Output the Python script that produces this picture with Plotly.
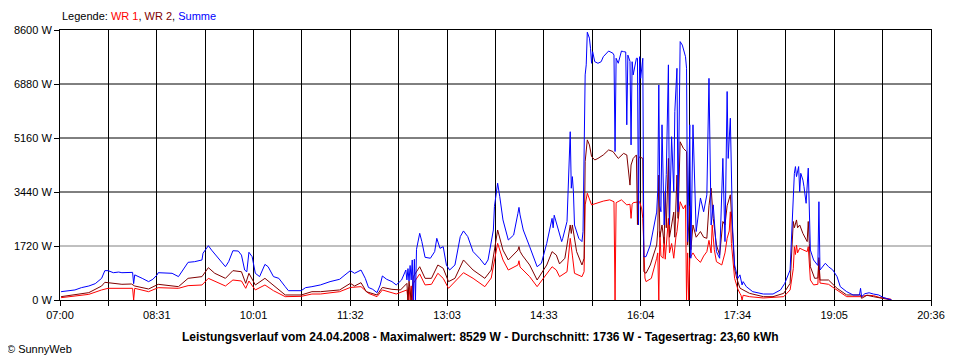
import plotly.graph_objects as go

# ---------------- data ----------------
wr1_t = ["07:01","07:14","07:27","07:39","07:45","08:08","08:09","08:10","08:23","08:32","08:51","09:00","09:13","09:19","09:35","09:42","09:50","09:54","09:57","10:03","10:12","10:20","10:31","10:46","10:56",
         "11:04","11:22","11:32","11:42","11:49","11:57","12:02","12:15","12:25","12:26","12:27","12:28","12:29","12:30","12:31","12:37","12:42","12:48","12:54","12:59","13:04","13:18","13:27","13:38","13:44","13:50","13:55",
         "14:00","14:09","14:10","14:11","14:20","14:27","14:36","14:41","14:45","14:48","14:55","14:56","14:58","15:00","15:02","15:09","15:11","15:12","15:14","15:18","15:29","15:35","15:39","15:40","15:41","15:46","15:51",
         "15:54","15:55","15:56","15:57","16:03","16:05","16:06","16:08","16:09","16:14","16:19","16:20","16:21","16:22","16:23","16:25","16:26","16:27","16:30","16:31","16:33","16:35","16:37","16:38","16:40","16:41","16:44",
         "16:46","16:47","16:48","16:49","16:50","16:53","16:56","17:00","17:03","17:06","17:08","17:10","17:11","17:13","17:15","17:20","17:23","17:25","17:27","17:28","17:29","17:32","17:35","17:37","17:38","17:39","17:40",
         "17:46","17:59","18:18","18:24","18:27","18:28","18:29","18:30","18:31","18:33","18:36","18:40","18:41","18:42","18:43","18:46","18:50","18:51","18:52","19:00","19:08","19:17","19:30","19:36","19:42","19:48","19:58","19:59"]
wr1_w = [74,117,180,320,372,372,0,372,265,393,372,457,478,690,446,637,605,372,605,320,478,297,106,117,190,
         191,265,400,425,212,106,320,191,320,0,400,0,450,0,530,830,480,500,850,690,372,870,690,425,700,1805,1275,
         955,1115,1250,1050,743,425,850,1060,955,743,900,1330,1965,1430,850,743,900,3030,3400,3030,3150,3190,3130,0,3100,3190,3030,
         3050,2600,3050,3100,3130,2900,2600,700,585,690,1330,1500,0,2180,1400,1330,2000,1300,2600,1500,1800,1330,2000,2180,2800,3130,2900,
         3030,0,1500,0,1330,1500,1330,1200,1400,1540,1900,1500,2390,1600,1220,1115,1500,1965,2200,2810,1800,690,350,212,150,0,150,
         106,64,106,320,1000,1700,1450,1750,1500,1650,1600,1540,1700,1200,637,480,500,1270,540,500,320,106,106,150,140,80,30,0]

wr2_t = ["07:01","07:14","07:27","07:39","07:42","07:58","08:07","08:10","08:23","08:32","08:51","09:00","09:13","09:19","09:25","09:35","09:42","09:50","09:54","09:57","10:03","10:12","10:20","10:31","10:46","10:56",
         "11:04","11:22","11:32","11:36","11:42","11:47","11:57","12:02","12:11","12:19","12:25","12:26","12:27","12:29","12:31","12:37","12:42","12:48","12:54","12:59","13:04","13:10","13:18","13:27","13:38","13:44","13:50",
         "13:55","14:00","14:09","14:10","14:11","14:13","14:20","14:27","14:36","14:41","14:45","14:48","14:53","14:56","14:58","14:59","15:00","15:04","15:09","15:11","15:12","15:14","15:16","15:18","15:21","15:24","15:29",
         "15:34","15:38","15:43","15:48","15:51","15:54","15:55","15:57","16:00","16:01","16:02","16:03","16:06","16:07","16:09","16:13","16:19","16:20","16:21","16:22","16:24","16:26","16:27","16:28","16:30","16:31","16:33",
         "16:35","16:36","16:38","16:39","16:41","16:44","16:47","16:48","16:50","16:51","16:53","16:56","17:00","17:03","17:06","17:08","17:10","17:12","17:15","17:18","17:21","17:23","17:25","17:28","17:30","17:32","17:34",
         "17:37","17:39","17:43","17:46","17:59","18:08","18:18","18:24","18:27","18:28","18:30","18:31","18:33","18:36","18:40","18:41","18:42","18:43","18:47","18:50","18:51","18:52","19:00","19:08","19:17","19:30","19:31",
         "19:36","19:42","19:51","19:59"]
wr2_w = [106,160,234,446,563,500,510,446,350,500,425,690,745,1030,850,690,935,900,530,850,478,690,457,160,160,265,
         265,320,530,446,552,265,160,400,340,320,530,0,600,0,743,1060,690,690,1115,1010,585,690,1275,955,690,955,2230,
         1590,1275,1590,1700,1550,1430,1115,637,1115,1540,1430,1150,1330,1965,2390,2120,2390,1540,1115,1330,4410,5100,4940,4570,4460,4510,4620,
         4780,4730,4510,4670,4620,3660,4300,4510,4620,2400,4500,4560,4510,900,850,1115,1750,2200,3980,2000,2390,1800,3450,2300,4510,2000,2390,
         2800,2000,3980,2600,5040,4830,4730,1750,3000,1600,2390,2000,2180,2000,1965,3000,3560,2600,1750,1430,2500,2390,3000,3350,2180,1000,690,
         380,340,265,212,106,106,212,530,2500,2300,2550,2300,2390,2120,1860,2500,1800,1060,690,700,1350,637,637,372,160,160,53,
         150,106,53,0]

sum_t = ["07:01","07:08","07:14","07:20","07:27","07:33","07:39","07:42","07:45","07:50","07:55","07:58","08:08","08:09","08:10","08:17","08:23","08:27","08:31","08:32","08:45","08:51","08:56","09:00","09:06","09:13",
         "09:14","09:19","09:22","09:28","09:35","09:38","09:42","09:47","09:50","09:53","09:55","09:57","10:00","10:03","10:07","10:12","10:15","10:20","10:25","10:31","10:34","10:46","10:50","10:56",
         "11:04","11:13","11:22","11:27","11:32","11:36","11:42","11:46","11:49","11:53","11:57","12:00","12:02","12:06","12:11","12:15","12:20","12:24","12:25","12:26","12:27","12:28","12:29","12:30","12:31","12:32",
         "12:33","12:34","12:37","12:39","12:42","12:47","12:51","12:53","12:56","12:59","13:02","13:05","13:10","13:15","13:18","13:22","13:27","13:33","13:38","13:41","13:46","13:47","13:50","13:52","13:55",
         "14:00","14:05","14:09","14:10","14:11","14:14","14:20","14:27","14:31","14:36","14:41","14:42","14:43","14:45","14:50","14:51","14:55","14:58","14:59","15:00","15:01","15:02","15:06","15:09","15:10",
         "15:12","15:13","15:14","15:16","15:17","15:18","15:19","15:21","15:24","15:27","15:29","15:34","15:38","15:39","15:40","15:41","15:43","15:46","15:48","15:50","15:51","15:52","15:54","15:55","15:56","15:57",
         "16:00","16:01","16:02","16:03","16:04","16:06","16:07","16:09","16:13","16:17","16:19","16:20","16:21","16:22","16:23","16:24","16:26","16:28","16:30","16:31","16:33","16:35","16:36","16:38","16:39",
         "16:41","16:43","16:46","16:47","16:48","16:50","16:51","16:53","16:56","17:00","17:03","17:06","17:08","17:10","17:12","17:15","17:18","17:21","17:23","17:25","17:26","17:28","17:30","17:32","17:35",
         "17:37","17:39","17:40","17:43","17:49","17:59","18:08","18:15","18:19","18:24","18:26","18:28","18:29","18:30","18:32","18:33","18:34","18:36","18:37","18:39","18:41","18:42","18:43","18:46","18:49","18:50",
         "18:51","18:52","18:57","19:00","19:04","19:08","19:11","19:17","19:23","19:29","19:30","19:31","19:34","19:38","19:42","19:47","19:51","19:58","19:59"]
sum_w = [265,287,320,393,446,520,690,935,935,870,890,870,880,520,800,690,585,660,800,870,850,745,1010,1200,1220,1275,
         1490,1730,1590,1330,1060,1220,1570,1560,1430,955,900,1520,1380,850,745,1135,1060,745,690,425,297,297,393,425,
         480,585,660,800,935,850,955,690,400,340,234,480,765,660,585,480,637,955,640,1000,600,1100,640,1275,0,1300,
         0,1615,2124,1860,1360,1330,1540,1965,1645,1700,1115,955,1115,2020,2200,2020,1540,1330,1115,1275,2230,2975,3720,3290,2550,
         1910,2070,2760,2950,2710,2230,1700,1060,1170,1805,2600,2300,2700,2440,1860,1965,2500,5360,3560,3930,3450,2390,1965,1860,2180,
         7170,7490,8530,8340,8020,7540,7910,7590,7540,7590,7750,7930,7860,7800,4730,7700,7540,7930,7910,7900,5580,7800,7600,4940,7590,7170,
         7700,7700,2390,7750,7060,7700,1380,1380,1750,2390,2800,3500,6850,3000,2810,5580,2390,4000,7490,2390,5200,3450,6000,7380,2810,
         8230,8120,7750,7380,1860,5580,1330,5580,2180,3250,2810,3350,7060,2390,3030,1540,1330,4510,1860,6640,4510,5790,2390,1115,690,
         800,480,585,425,265,190,190,320,530,955,2655,4035,4250,3930,4250,3450,4035,3820,3610,3080,4200,3000,1590,1275,1115,1100,
         3130,955,1170,1060,955,743,425,265,160,160,372,106,200,230,190,160,85,32,0]

series_names = ["WR 1", "WR 2", "Summe"]
series_colors = ["#ff0000", "#800000", "#0000ff"]

y_ticks = [0, 1720, 3440, 5160, 6880, 8600]
x_tick_labels = ["07:00", "08:31", "10:01", "11:32", "13:03", "14:33", "16:04", "17:34", "19:05", "20:36"]

title_text = ("Leistungsverlauf vom 24.04.2008 - Maximalwert: 8529 W - Durchschnitt: 1736 W"
              " - Tagesertrag: 23,60 kWh")


def to_min(s):
    h, m = s.split(":")
    return int(h) * 60 + int(m)


x_start = to_min(x_tick_labels[0])
x_end = to_min(x_tick_labels[-1])
n_grid = 2 * (len(x_tick_labels) - 1)
grid_x = [x_start + i * (x_end - x_start) / n_grid for i in range(n_grid + 1)]
grid_text = [x_tick_labels[i // 2] if i % 2 == 0 else "" for i in range(n_grid + 1)]

FONT = "Liberation Sans"

fig = go.Figure()
for name, color, ts, ws in zip(series_names, series_colors,
                               [wr1_t, wr2_t, sum_t], [wr1_w, wr2_w, sum_w]):
    fig.add_trace(go.Scatter(x=[to_min(t) for t in ts], y=ws, mode="lines", name=name,
                             line=dict(color=color, width=1), hoverinfo="x+y+name"))

# horizontal grid lines (the 1720 W line is grey)
for i, v in enumerate(y_ticks[1:-1]):
    fig.add_shape(type="line", xref="paper", x0=0, x1=1, yref="y", y0=v, y1=v,
                  line=dict(color="#808080" if i == 0 else "#000000", width=1), layer="between")

# the page body has an 8px margin; size the figure so the plot area lands where the reference has it
PAD = 8
plot_h = 270
mt, mb = 30 - PAD, 60
fig.update_layout(
    width=960 - PAD, height=360 - PAD, autosize=False,
    margin=dict(l=60 - PAD, r=29, t=mt, b=mb, pad=0),
    paper_bgcolor="white", plot_bgcolor="white",
    showlegend=False,
    font=dict(family=FONT, size=11, color="black"),
    xaxis=dict(range=[x_start, x_end], tickvals=grid_x, ticktext=grid_text,
               showgrid=True, gridcolor="black", gridwidth=1, zeroline=False,
               showline=True, linecolor="black", linewidth=1, mirror=True,
               ticks="outside", ticklen=5, tickcolor="black", automargin=False,
               tickfont=dict(family=FONT, size=11, color="black")),
    yaxis=dict(range=[0, y_ticks[-1]], tickvals=y_ticks, ticktext=[f"{v} W" for v in y_ticks],
               showgrid=False, zeroline=False,
               showline=True, linecolor="black", linewidth=1, mirror=True,
               ticks="outside", ticklen=5, tickcolor="black", automargin=False,
               tickfont=dict(family=FONT, size=11, color="black")),
    annotations=[
        dict(xref="paper", yref="paper", x=0, y=(300 - 16) / plot_h, xanchor="left", yanchor="middle",
             showarrow=False, font=dict(family=FONT, size=11, color="black"),
             text=("Legende: " + ", ".join(
                 f"<span style='color:{c}'>{n}</span>" for n, c in zip(series_names, series_colors)))),
        dict(xref="paper", yref="paper", x=(480 - 60) / 871, y=(300 - 337) / plot_h,
             xanchor="center", yanchor="middle",
             showarrow=False, font=dict(family=FONT, size=12, color="black"),
             text=f"<b>{title_text}</b>"),
        dict(xref="paper", yref="paper", x=(5 - 60) / 871, y=(300 - 349) / plot_h,
             xanchor="left", yanchor="middle",
             showarrow=False, font=dict(family=FONT, size=11, color="black"),
             text="© SunnyWeb"),
    ],
)

fig.write_html("out.html")
